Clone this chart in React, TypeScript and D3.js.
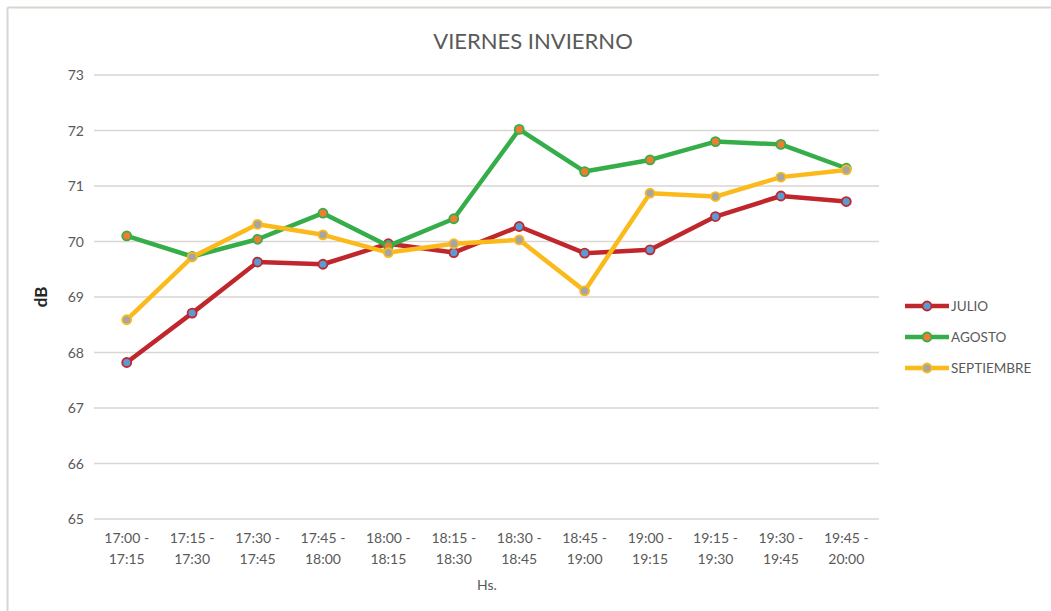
import React from "react";
import * as d3 from "d3";

const categories = [
  ["17:00 -", "17:15"], ["17:15 -", "17:30"], ["17:30 -", "17:45"], ["17:45 -", "18:00"],
  ["18:00 -", "18:15"], ["18:15 -", "18:30"], ["18:30 -", "18:45"], ["18:45 -", "19:00"],
  ["19:00 -", "19:15"], ["19:15 -", "19:30"], ["19:30 -", "19:45"], ["19:45 -", "20:00"],
];
const julio = [67.82, 68.71, 69.63, 69.59, 69.96, 69.8, 70.27, 69.79, 69.85, 70.45, 70.82, 70.72];
const agosto = [70.1, 69.73, 70.04, 70.51, 69.92, 70.41, 72.02, 71.26, 71.47, 71.8, 71.75, 71.32];
const septiembre = [68.59, 69.72, 70.31, 70.12, 69.8, 69.96, 70.03, 69.11, 70.87, 70.81, 71.16, 71.29];
const yTicks = [65, 66, 67, 68, 69, 70, 71, 72, 73];

const series = [
  { name: "JULIO", values: julio, color: "#C0272D", fill: "#5B9BD5" },
  { name: "AGOSTO", values: agosto, color: "#35AE4A", fill: "#ED7D31" },
  { name: "SEPTIEMBRE", values: septiembre, color: "#FBBA1C", fill: "#A5A5A5" },
];

const W = 1051, H = 611;
const plot = { left: 94, right: 879, top: 75, bottom: 519 };
const FONT = "Lato, 'Open Sans', sans-serif";

export default function App() {
  const x = d3.scaleBand<number>().domain(d3.range(categories.length)).range([plot.left, plot.right]);
  const y = d3.scaleLinear().domain([65, 73]).range([plot.bottom, plot.top]);
  const cx = (i: number) => (x(i) as number) + x.bandwidth() / 2;
  const line = d3.line<number>().x((_, i) => cx(i)).y((v) => y(v));

  return (
    <svg width={W} height={H} style={{ position: "absolute", left: 0, top: 0, background: "#fff" }}>
      <rect x={0} y={0} width={W} height={H} fill="#fff" />
      <line x1={7.5} y1={7.5} x2={W} y2={7.5} stroke="#d9d5d0" strokeWidth={2} />
      <line x1={7.5} y1={7.5} x2={7.5} y2={H} stroke="#d9d5d0" strokeWidth={2} />
      <text x={533} y={49} textAnchor="middle" fontFamily={FONT} fontSize={22} fill="#595959">VIERNES INVIERNO</text>
      {yTicks.map((t) => (
        <g key={t}>
          <line x1={plot.left} x2={plot.right} y1={y(t)} y2={y(t)} stroke="#d9d6d4" strokeWidth={1.5} />
          <text x={84} y={y(t) + 5} textAnchor="end" fontFamily={FONT} fontSize={14} fill="#595959">{t}</text>
        </g>
      ))}
      <text transform={`translate(47,${y(69)}) rotate(-90)`} textAnchor="middle" fontFamily={FONT} fontSize={17} fontWeight="bold" fill="#262626">dB</text>
      {categories.map((c, i) => (
        <text key={i} x={cx(i)} textAnchor="middle" fontFamily={FONT} fontSize={14} fill="#595959">
          <tspan x={cx(i)} y={543}>{c[0]}</tspan>
          <tspan x={cx(i)} y={564}>{c[1]}</tspan>
        </text>
      ))}
      <text x={487} y={590} textAnchor="middle" fontFamily={FONT} fontSize={14} fill="#595959">Hs.</text>
      {series.map((s) => (
        <g key={s.name}>
          <path d={line(s.values) || ""} fill="none" stroke={s.color} strokeWidth={4.5} strokeLinejoin="round" />
          {s.values.map((v, i) => (
            <circle key={i} cx={cx(i)} cy={y(v)} r={4.5} fill={s.fill} stroke={s.color} strokeWidth={1.8} />
          ))}
        </g>
      ))}
      {series.map((s, k) => {
        const ly = 306 + k * 31;
        return (
          <g key={s.name}>
            <line x1={905} x2={949} y1={ly} y2={ly} stroke={s.color} strokeWidth={4.5} />
            <circle cx={927} cy={ly} r={4.5} fill={s.fill} stroke={s.color} strokeWidth={1.8} />
            <text x={951} y={ly + 5} fontFamily={FONT} fontSize={13.5} fill="#595959">{s.name}</text>
          </g>
        );
      })}
    </svg>
  );
}
